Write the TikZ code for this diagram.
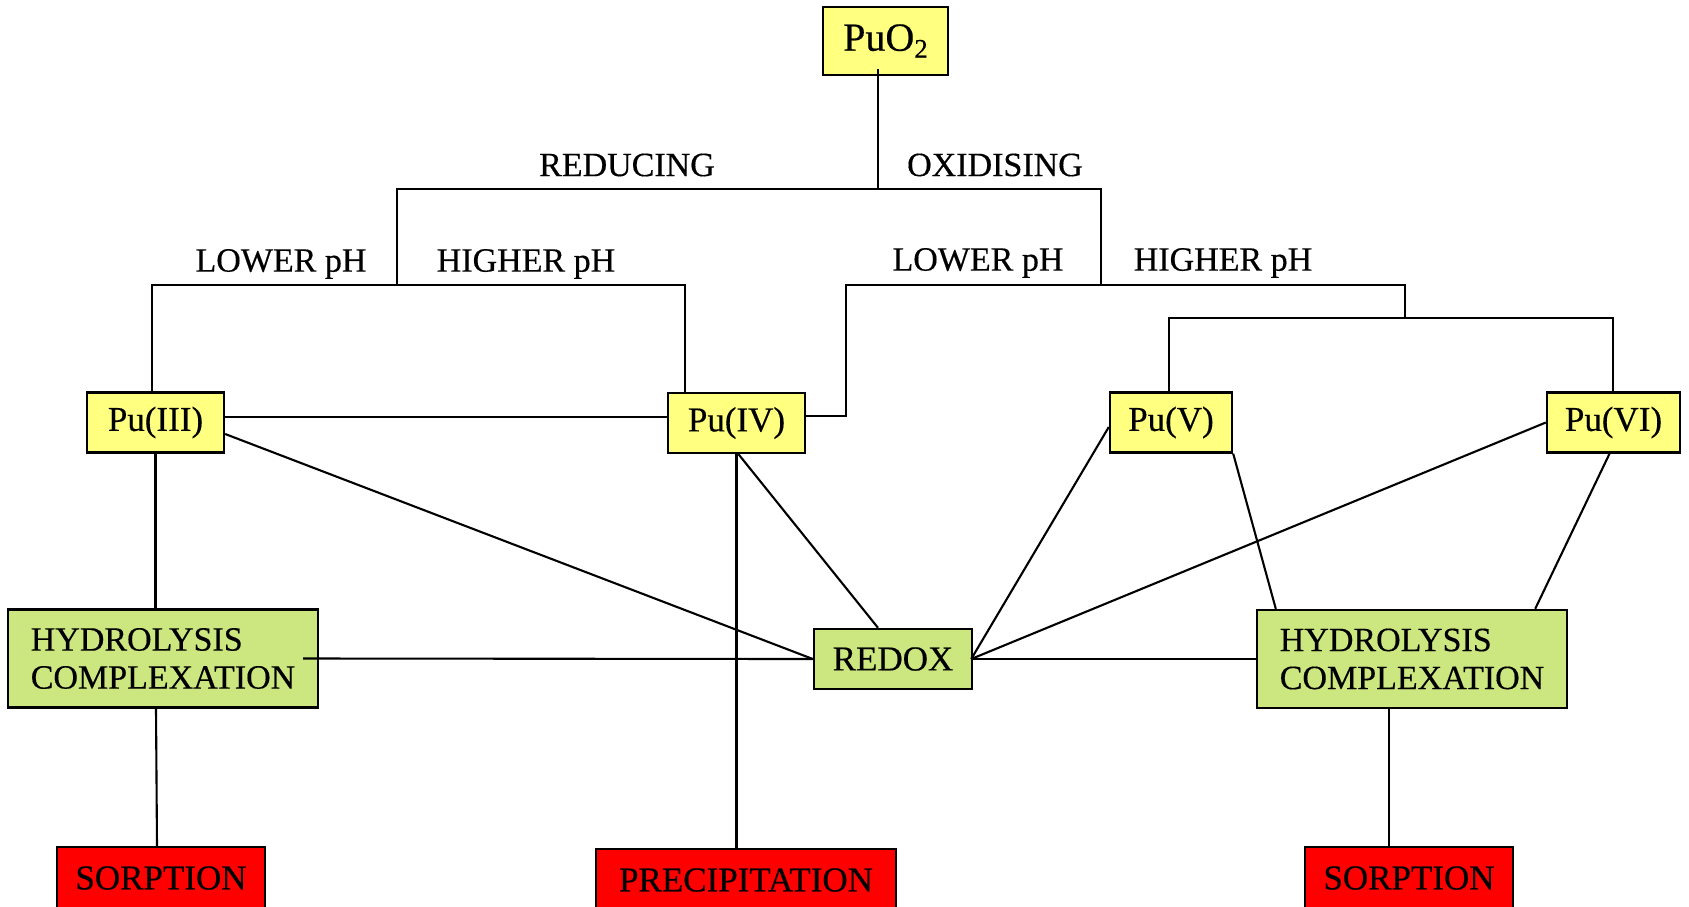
\documentclass[tikz,border=0pt]{standalone}
\usepackage{fontspec}
\setmainfont[FakeBold=0.4]{Liberation Serif}
\definecolor{pyellow}{RGB}{255,255,128}
\definecolor{pgreen}{RGB}{204,230,128}
\definecolor{pred}{RGB}{255,0,0}
\begin{document}
\begin{tikzpicture}[x=1pt,y=-1pt,
  box/.style={draw=black,line width=2.4pt,inner sep=0pt,font=\fontsize{35}{40}\selectfont},
  species/.style={box,fill=pyellow,minimum height=60pt},
  process/.style={box,fill=pgreen,minimum height=60pt},
  twoline/.style={process,align=left,minimum width=310pt,minimum height=98pt,font=\fontsize{34}{38}\selectfont},
  fate/.style={box,fill=pred,minimum height=62pt},
  lbl/.style={inner sep=0pt,font=\fontsize{34}{39}\selectfont},
  link/.style={line width=2.1pt}]
\useasboundingbox (0,0) rectangle (1689,906);

% oxide and oxidation states
\node[species,minimum width=125pt,minimum height=68pt,font=\fontsize{40}{44}\selectfont] (puo2) at (885.5,41) {PuO\raisebox{-7pt}{\fontsize{27}{27}\selectfont 2}};
\node[species,minimum width=137pt] (pu3) at (155.5,422.5) {Pu(III)};
\node[species,minimum width=137pt] (pu4) at (736.5,423) {Pu(IV)};
\node[species,minimum width=122pt] (pu5) at (1171,422.5) {Pu(V)};
\node[species,minimum width=133pt] (pu6) at (1613.5,422.5) {Pu(VI)};

% processes
\node[twoline] (hydL) at (163,658.5) {HYDROLYSIS\\COMPLEXATION};
\node[process,minimum width=158pt] (redox) at (893,659) {REDOX};
\node[twoline] (hydR) at (1412,659) {HYDROLYSIS\\COMPLEXATION};

% fates
\node[fate,minimum width=208pt] (sorpL) at (161,878) {SORPTION};
\node[fate,minimum width=300pt] (prec) at (746,880) {PRECIPITATION};
\node[fate,minimum width=208pt] (sorpR) at (1409,878) {SORPTION};

% branch labels
\node[lbl] (reducing) at (627,165) {REDUCING};
\node[lbl] (oxidising) at (995,165) {OXIDISING};
\node[lbl] (lowL) at (281,264) {LOWER pH};
\node[lbl] (highL) at (526,264) {HIGHER pH};
\node[lbl] (lowR) at (978,263) {LOWER pH};
\node[lbl] (highR) at (1223,263) {HIGHER pH};

% tree junctions
\coordinate (split) at (878,189);
\coordinate (redL) at (397,189);
\coordinate (oxR) at (1101,189);
\coordinate (redBarL) at (152,285);
\coordinate (redBarR) at (685,285);
\coordinate (oxBarL) at (846,285);
\coordinate (oxBarR) at (1405,285);
\coordinate (oxKnee) at (846,416);
\coordinate (hiBar) at (1405,318);
\coordinate (hiBarL) at (1169,318);
\coordinate (hiBarR) at (1613,318);
\coordinate (p34) at (0,417);

% redox tree
\draw[link] ([yshift=7pt]puo2.south -| split) -- (split);
\draw[link] (redL |- redBarL) -- (redL) -- (oxR) -- (oxR |- oxBarR);
\draw[link] (redBarL |- pu3.north) -- (redBarL) -- (redBarR) -- (redBarR |- pu4.north);
\draw[link] (pu4.east |- oxKnee) -- (oxKnee) -- (oxBarL) -- (oxBarR) -- (hiBar);
\draw[link] (hiBarL |- pu5.north) -- (hiBarL) -- (hiBarR) -- (hiBarR |- pu6.north);

% links between species and processes
\draw[link] (pu3.east |- p34) -- (pu4.west |- p34);
\draw[link] ([yshift=-11.5pt]pu3.east) -- (redox.west);
\draw[link] (pu3.south) -- (pu3.south |- hydL.north);
\draw[link] ([xshift=-16pt]hydL.east) -- (redox.west);
\draw[link] ([xshift=-7pt]hydL.south) -- ([xshift=-4pt]sorpL.north);
\draw[link] (pu4.south) -- (pu4.south |- prec.north);
\draw[link] ([xshift=2pt]pu4.south) -- ([xshift=-15pt]redox.north);
\draw[link] ([yshift=-4.5pt]pu5.west) -- ([xshift=-2pt]redox.east);
\draw[link] (pu6.west) -- ([xshift=-2pt]redox.east);
\draw[link] (redox.east) -- (hydR.west);
\draw[link] (pu5.south east) -- ([xshift=20pt]hydR.north west);
\draw[link] ([xshift=-4pt]pu6.south) -- ([xshift=-33pt]hydR.north east);
\draw[link] ([xshift=-23pt]hydR.south) -- ([xshift=-20pt]sorpR.north);
\end{tikzpicture}
\end{document}
